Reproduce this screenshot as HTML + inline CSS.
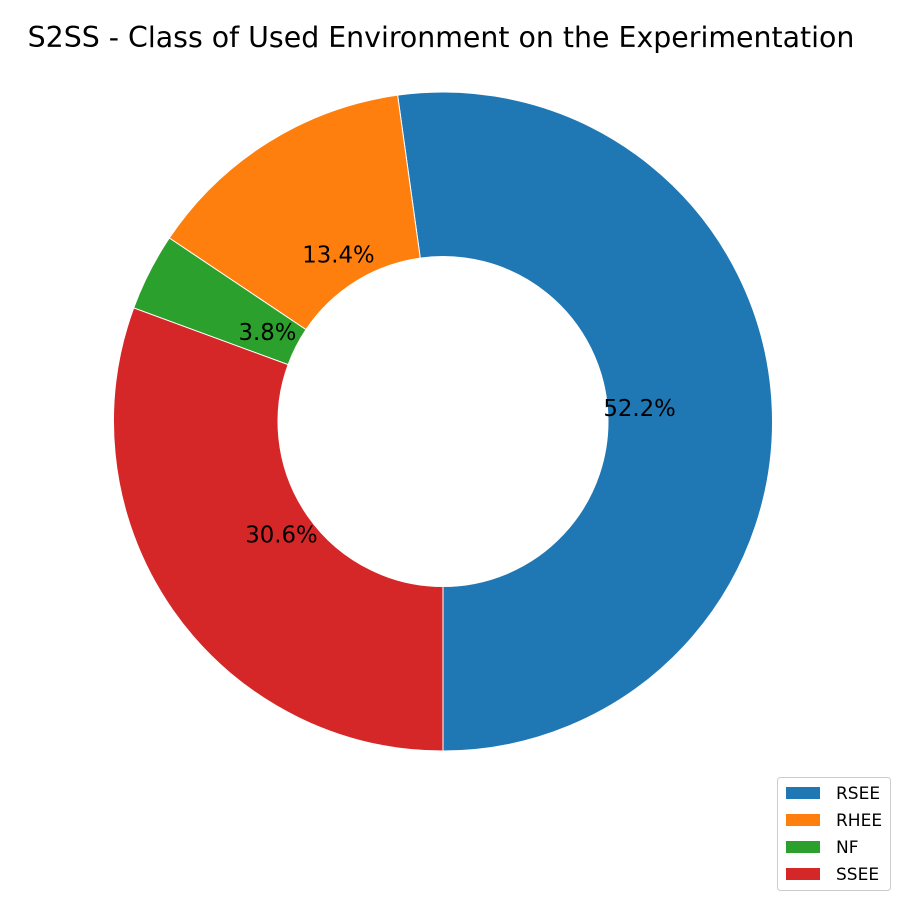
<!DOCTYPE html>
<html><head><meta charset="utf-8"><style>
body{margin:0;background:#fff;}
svg{display:block;font-family:"DejaVu Sans","Liberation Sans",sans-serif;}
</style></head><body>
<svg id="chart" width="900" height="900" viewBox="0 0 900 900">
<rect width="900" height="900" fill="#fff"/>
<text x="441" y="47" font-size="28.4" text-anchor="middle">S2SS - Class of Used Environment on the Experimentation</text>
<g id="slices"></g>
<g id="labels"></g>
<g id="legend">
<rect x="777.5" y="777.5" width="113" height="113" rx="3" fill="#fff" stroke="#ccc" stroke-width="1"/>
</g>
</svg>
<script>
const categories = ["RSEE","RHEE","NF","SSEE"];
const values = [52.2,13.4,3.8,30.6];
const colors = ["#1f77b4","#ff7f0e","#2ca02c","#d62728"];
const cx=443, cy=421.5, R=329.5, r=165, labR=197;
const ns="http://www.w3.org/2000/svg";
const total=values.reduce((a,b)=>a+b,0);
function pt(rad,deg){const a=deg*Math.PI/180;return [cx+rad*Math.cos(a), cy-rad*Math.sin(a)];}
let start=-90;
const sg=document.getElementById('slices'), lg=document.getElementById('labels'), leg=document.getElementById('legend');
values.forEach((v,i)=>{
  const sweep=v/total*360, end=start+sweep;
  const [x1,y1]=pt(R,start),[x2,y2]=pt(R,end),[x3,y3]=pt(r,end),[x4,y4]=pt(r,start);
  const large=sweep>180?1:0;
  const p=document.createElementNS(ns,'path');
  p.setAttribute('d',`M${x1},${y1} A${R},${R} 0 ${large} 0 ${x2},${y2} L${x3},${y3} A${r},${r} 0 ${large} 1 ${x4},${y4} Z`);
  p.setAttribute('fill',colors[i]);p.setAttribute('stroke','#fff');p.setAttribute('stroke-width','1');
  
  
  sg.appendChild(p);
  const [lx,ly]=pt(labR,start+sweep/2);
  const t=document.createElementNS(ns,'text');
  t.setAttribute('x',lx);t.setAttribute('y',ly+8);t.setAttribute('font-size','22.8');t.setAttribute('text-anchor','middle');
  t.textContent=v.toFixed(1)+'%';
  
  
  lg.appendChild(t);
  const ly2=793+i*27;
  const sw=document.createElementNS(ns,'rect');
  sw.setAttribute('x',786);sw.setAttribute('y',ly2-6);sw.setAttribute('width',34);sw.setAttribute('height',12);sw.setAttribute('fill',colors[i]);
  
  
  leg.appendChild(sw);
  const lt=document.createElementNS(ns,'text');
  lt.setAttribute('x',836);lt.setAttribute('y',ly2+6);lt.setAttribute('font-size','17');lt.textContent=categories[i];
  
  
  leg.appendChild(lt);
  start=end;
});
</script>
</body></html>
